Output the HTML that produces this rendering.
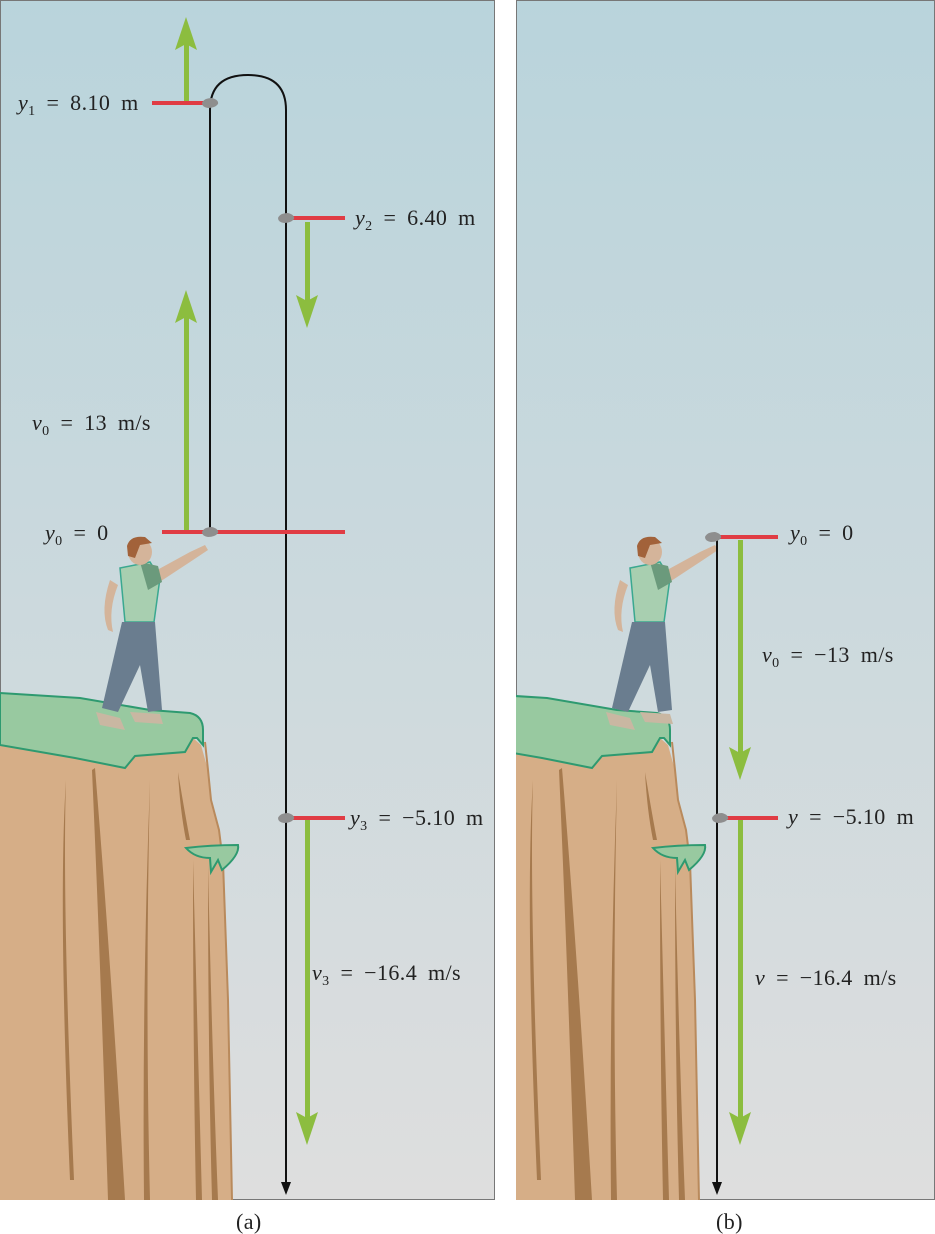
<!DOCTYPE html>
<html><head><meta charset="utf-8"><style>
body{margin:0;background:#fff}
svg{display:block}
text{font-family:"Liberation Serif",serif;font-size:22px;fill:#222;word-spacing:5px;letter-spacing:0.4px}
.i{font-style:italic}
</style></head><body>
<svg width="935" height="1234" viewBox="0 0 935 1234" xmlns="http://www.w3.org/2000/svg">
<defs>
<linearGradient id="sky" x1="0" y1="0" x2="0" y2="1">
<stop offset="0" stop-color="#b9d4dc"/><stop offset="1" stop-color="#dedede"/>
</linearGradient>
<g id="cliff">
<path d="M0,745 L75,758 L125,768 L135,756 L185,752 L193,738 L201,745 L208,770 L211,800 L219,830 L223,862 L228,1000 L232,1200 L0,1200 Z" fill="#d6ae87"/>
<path d="M205,742 L208,770 L211,800 L219,830 L223,862 L228,1000 L232,1200" fill="none" stroke="#b98a5c" stroke-width="2"/>
<path d="M66,780 Q62,900 74,1180 L70,1180 Q58,900 66,780Z" fill="#a67a4e"/>
<path d="M95,768 Q110,950 125,1200 L108,1200 Q100,950 92,770Z" fill="#a67a4e"/>
<path d="M150,780 Q145,1000 150,1200 L144,1200 Q142,1000 150,780Z" fill="#a67a4e"/>
<path d="M178,772 Q186,820 190,840 L186,840 Q180,810 178,772Z" fill="#a67a4e"/>
<path d="M193,860 Q198,1050 202,1200 L196,1200 Q193,1050 193,860Z" fill="#a67a4e"/>
<path d="M208,865 Q212,1050 218,1200 L212,1200 Q208,1050 208,865Z" fill="#a67a4e"/>
<path d="M0,693 L80,698 L150,710 L190,713 Q203,716 203,730 L203,745 L197,738 L193,738 L185,752 L135,756 L125,768 L75,758 L0,745Z" fill="#98c9a0" stroke="#2e9a70" stroke-width="2"/>
<path d="M186,848 Q210,845 238,845 Q240,855 222,870 L218,860 L211,872 L210,858 Q195,858 186,848Z" fill="#98c9a0" stroke="#2e9a70" stroke-width="2"/>
</g>
<g id="man">
<path d="M110,580 Q100,610 108,630 L113,632 Q108,610 118,585Z" fill="#d4b49a"/>
<path d="M148,575 L190,552 L205,545 L208,550 L190,562 L155,585Z" fill="#d4b49a"/>
<path d="M120,568 L150,562 L160,578 L154,622 L125,622 Z" fill="#a8cfb0" stroke="#3aa890" stroke-width="1.5"/>
<path d="M140,562 L158,566 L162,582 L148,590Z" fill="#6b9a7c"/>
<path d="M122,622 L155,622 L162,710 L148,712 L140,665 L118,712 L102,708 Z" fill="#6a7d8f"/>
<path d="M96,712 L120,718 L125,730 L100,725Z" fill="#c9b7a2"/>
<path d="M130,712 L160,714 L163,724 L135,722Z" fill="#c9b7a2"/>
<ellipse cx="140" cy="552" rx="12" ry="13" fill="#d4b49a"/>
<path d="M127,546 Q130,535 145,537 L152,543 L140,545 L135,558 L128,556Z" fill="#a2623a"/>
</g>
<path id="rock" d="M-8,0 Q-6,-5 2,-5 Q9,-3 8,1 Q5,5 -2,5 Q-8,4 -8,0Z" fill="#8e8e8e"/>
</defs>
<rect x="0.5" y="0.5" width="494" height="1199" fill="url(#sky)" stroke="#777" stroke-width="1"/>
<rect x="516.5" y="0.5" width="418" height="1199" fill="url(#sky)" stroke="#777" stroke-width="1"/>

<use href="#cliff"/>
<use href="#man"/>
<svg x="516" y="0" width="419" height="1200" overflow="hidden"><use href="#cliff" x="-49"/></svg>
<use href="#man" x="510"/>

<g fill="#8cbd3f">
<rect x="184" y="40" width="5" height="63"/><path d="M186,17 L197,50 L186,44 L175,50Z"/>
<rect x="184" y="315" width="5" height="215"/><path d="M186,290 L197,323 L186,317 L175,323Z"/>
<rect x="305" y="222" width="5" height="80"/><path d="M307,328 L318,295 L307,301 L296,295Z"/>
<rect x="305" y="820" width="5" height="300"/><path d="M307,1145 L318,1112 L307,1118 L296,1112Z"/>
<rect x="738" y="540" width="5" height="215"/><path d="M740,780 L751,747 L740,753 L729,747Z"/>
<rect x="738" y="820" width="5" height="300"/><path d="M740,1145 L751,1112 L740,1118 L729,1112Z"/>
</g>
<path d="M210,532 L210,110 Q210,75 248,75 Q286,75 286,110 L286,1188" fill="none" stroke="#111" stroke-width="2"/>
<path d="M286,1195 L281,1182 L291,1182Z" fill="#111"/>
<path d="M717,540 L717,1188" fill="none" stroke="#111" stroke-width="2"/>
<path d="M717,1195 L712,1182 L722,1182Z" fill="#111"/>
<g stroke="#e03c44" stroke-width="4">
<line x1="152" y1="103" x2="210" y2="103"/>
<line x1="286" y1="218" x2="345" y2="218"/>
<line x1="162" y1="532" x2="345" y2="532"/>
<line x1="286" y1="818" x2="345" y2="818"/>
<line x1="715" y1="537" x2="778" y2="537"/>
<line x1="720" y1="818" x2="778" y2="818"/>
</g>
<use href="#rock" x="210" y="103"/>
<use href="#rock" x="286" y="218"/>
<use href="#rock" x="210" y="532"/>
<use href="#rock" x="286" y="818"/>
<use href="#rock" x="713" y="537"/>
<use href="#rock" x="720" y="818"/>

<text x="18" y="110"><tspan class="i">y</tspan><tspan font-size="14" dy="5">1</tspan><tspan dy="-5"> = 8.10 m</tspan></text>
<text x="355" y="225"><tspan class="i">y</tspan><tspan font-size="14" dy="5">2</tspan><tspan dy="-5"> = 6.40 m</tspan></text>
<text x="32" y="430"><tspan class="i">v</tspan><tspan font-size="14" dy="5">0</tspan><tspan dy="-5"> = 13 m/s</tspan></text>
<text x="45" y="540"><tspan class="i">y</tspan><tspan font-size="14" dy="5">0</tspan><tspan dy="-5"> = 0</tspan></text>
<text x="350" y="825"><tspan class="i">y</tspan><tspan font-size="14" dy="5">3</tspan><tspan dy="-5"> = −5.10 m</tspan></text>
<text x="312" y="980"><tspan class="i">v</tspan><tspan font-size="14" dy="5">3</tspan><tspan dy="-5"> = −16.4 m/s</tspan></text>
<text x="790" y="540"><tspan class="i">y</tspan><tspan font-size="14" dy="5">0</tspan><tspan dy="-5"> = 0</tspan></text>
<text x="762" y="662"><tspan class="i">v</tspan><tspan font-size="14" dy="5">0</tspan><tspan dy="-5"> = −13 m/s</tspan></text>
<text x="788" y="824"><tspan class="i">y</tspan> = −5.10 m</text>
<text x="755" y="985"><tspan class="i">v</tspan> = −16.4 m/s</text>
<text x="236" y="1229" font-size="20">(a)</text>
<text x="716" y="1229" font-size="20">(b)</text>
</svg>
</body></html>
